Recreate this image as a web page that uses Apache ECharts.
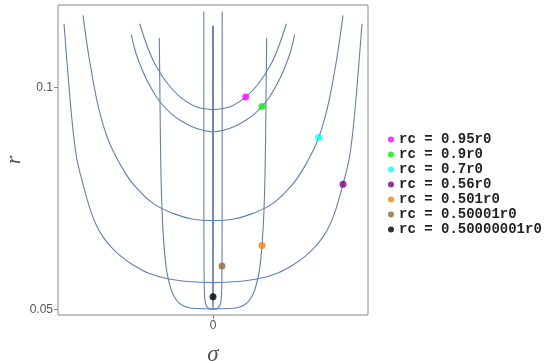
<!DOCTYPE html>
<html>
<head>
<meta charset="utf-8">
<script src="https://cdn.jsdelivr.net/npm/echarts@6/dist/echarts.min.js"></script>
<style>
  html, body { margin: 0; padding: 0; background: #fff; }
  #chart { width: 545px; height: 361px; }
</style>
</head>
<body>
<div id="chart"></div>
<script>
// tick values
const sigmaTicks = [0];
const rTicks = [0.05, 0.1];

// curves [sigma, r], one per rc
const curve095 = [[-0.734,0.11437],[-0.65,0.10884],[-0.574,0.10501],[-0.45,0.10072],[-0.327,0.09783],[-0.2,0.09596],[-0.1,0.09524],[0,0.095],[0.1,0.09524],[0.2,0.09596],[0.327,0.09783],[0.45,0.10072],[0.574,0.10501],[0.65,0.10884],[0.734,0.11437]];
const curve09 = [[-0.817,0.11189],[-0.78,0.10839],[-0.74,0.1058],[-0.68,0.10253],[-0.62,0.09993],[-0.56,0.09768],[-0.49,0.09571],[-0.41,0.09395],[-0.32,0.09249],[-0.22,0.09125],[-0.12,0.09046],[0,0.09],[0.12,0.09046],[0.22,0.09125],[0.32,0.09249],[0.41,0.09395],[0.49,0.09571],[0.56,0.09768],[0.62,0.09993],[0.68,0.10253],[0.74,0.1058],[0.78,0.10839],[0.817,0.11189]];
const curve07 = [[-1.30,0.11625],[-1.255,0.10896],[-1.21,0.10287],[-1.16,0.097],[-1.11,0.09249],[-1.057,0.08872],[-1.0,0.08572],[-0.92,0.08233],[-0.8,0.07827],[-0.6,0.07387],[-0.4,0.07162],[-0.2,0.07031],[0,0.07],[0.2,0.07031],[0.4,0.07162],[0.6,0.07387],[0.8,0.07827],[0.92,0.08233],[1.0,0.08572],[1.057,0.08872],[1.11,0.09249],[1.16,0.097],[1.21,0.10287],[1.255,0.10896],[1.30,0.11625]];
const curve056 = [[-1.49,0.11437],[-1.45,0.10287],[-1.42,0.09497],[-1.39,0.08843],[-1.36,0.08369],[-1.30,0.0782],[-1.23,0.07263],[-1.17,0.06913],[-1.10,0.06631],[-1.02,0.06406],[-0.92,0.06191],[-0.8,0.06],[-0.65,0.05819],[-0.45,0.05688],[-0.25,0.05625],[0,0.056],[0.25,0.05625],[0.45,0.05688],[0.65,0.05819],[0.8,0.06],[0.92,0.06191],[1.02,0.06406],[1.10,0.06631],[1.17,0.06913],[1.23,0.07263],[1.30,0.0782],[1.36,0.08369],[1.39,0.08843],[1.42,0.09497],[1.45,0.10287],[1.49,0.11437]];
const curve0501 = [[-0.537,0.11115],[-0.53,0.09722],[-0.523,0.08369],[-0.51,0.07241],[-0.49,0.06435],[-0.465,0.05887],[-0.44,0.05616],[-0.41,0.0539],[-0.37,0.05221],[-0.32,0.05108],[-0.25,0.05041],[-0.15,0.05016],[0,0.0501],[0.15,0.05016],[0.25,0.05041],[0.32,0.05108],[0.37,0.05221],[0.41,0.0539],[0.44,0.05616],[0.465,0.05887],[0.49,0.06435],[0.51,0.07241],[0.523,0.08369],[0.53,0.09722],[0.537,0.11115]];
const curve050001 = [[-0.092,0.11715],[-0.091,0.07466],[-0.09,0.05977],[-0.086,0.05391],[-0.08,0.05188],[-0.07,0.05097],[-0.055,0.05041],[-0.03,0.05007],[0,0.05],[0.03,0.05007],[0.055,0.05041],[0.07,0.05097],[0.08,0.05188],[0.086,0.05391],[0.09,0.05977],[0.091,0.07466],[0.092,0.11715]];
const curve05000001 = [[-0.004,0.11392],[-0.003,0.0521],[0,0.05],[0.003,0.0521],[0.004,0.11392]];

// marked points
const pointNames = ['rc = 0.95r0', 'rc = 0.9r0', 'rc = 0.7r0', 'rc = 0.56r0', 'rc = 0.501r0', 'rc = 0.50001r0', 'rc = 0.50000001r0'];
const pointSigma = [0.327, 0.49, 1.057, 1.30, 0.49, 0.09, 0];
const pointR = [0.09783, 0.09571, 0.08872, 0.0782, 0.06435, 0.05977, 0.05284];
const pointColors = ['#ff00ff', '#00ee00', '#00ffff', '#800080', '#ff8000', '#996633', '#000000'];

const curves = [curve095, curve09, curve07, curve056, curve0501, curve050001, curve05000001];

let myChart = echarts.init(document.getElementById('chart'));

let series = curves.map(c => ({
    type: 'line',
    data: c,
    showSymbol: false,
    smooth: 0.35,
    silent: true,
    lineStyle: { color: '#5e81b5', width: 1.1 },
    z: 2
}));
pointNames.forEach((n, i) => {
    series.push({
        name: n,
        type: 'scatter',
        data: [[pointSigma[i], pointR[i]]],
        symbol: 'circle',
        symbolSize: 7,
        itemStyle: { color: pointColors[i] },
        z: 5
    });
});

myChart.setOption({
    animation: false,
    grid: {
        left: 58, top: 5, width: 310, height: 310,
        outerBoundsMode: 'none',
        show: true, borderColor: '#8a8a8a', borderWidth: 1
    },
    legend: {
        data: pointNames,
        orient: 'vertical',
        left: 388, top: 132, padding: 0,
        icon: 'circle',
        itemWidth: 6, itemHeight: 6, itemGap: 0,
        textStyle: {
            fontFamily: 'Liberation Mono', fontWeight: 'bold',
            fontSize: 14, lineHeight: 15, color: '#222'
        }
    },
    xAxis: {
        type: 'value',
        min: -1.55, max: 1.55,
        name: 'σ', nameLocation: 'middle', nameGap: 28,
        nameTextStyle: { fontFamily: 'Liberation Serif', fontStyle: 'italic', fontSize: 23, color: '#555' },
        axisLine: { show: false, onZero: false },
        splitLine: { show: false },
        axisTick: { customValues: sigmaTicks, inside: false, length: 4, lineStyle: { color: '#8a8a8a' } },
        axisLabel: { customValues: sigmaTicks, margin: 5, fontFamily: 'Liberation Sans', fontSize: 12, color: '#555' }
    },
    yAxis: {
        type: 'value',
        min: 0.04871, max: 0.11859,
        name: 'r', nameLocation: 'middle', nameGap: 33, nameRotate: 90,
        nameMoveOverlap: false,
        nameTextStyle: { fontFamily: 'Liberation Serif', fontStyle: 'italic', fontSize: 22, color: '#555' },
        axisLine: { show: false, onZero: false },
        splitLine: { show: false },
        axisTick: { customValues: rTicks, inside: false, length: 4, lineStyle: { color: '#8a8a8a' } },
        axisLabel: { customValues: rTicks, margin: 5, fontFamily: 'Liberation Sans', fontSize: 12, color: '#555' }
    },
    series: series
});
</script>
</body>
</html>
